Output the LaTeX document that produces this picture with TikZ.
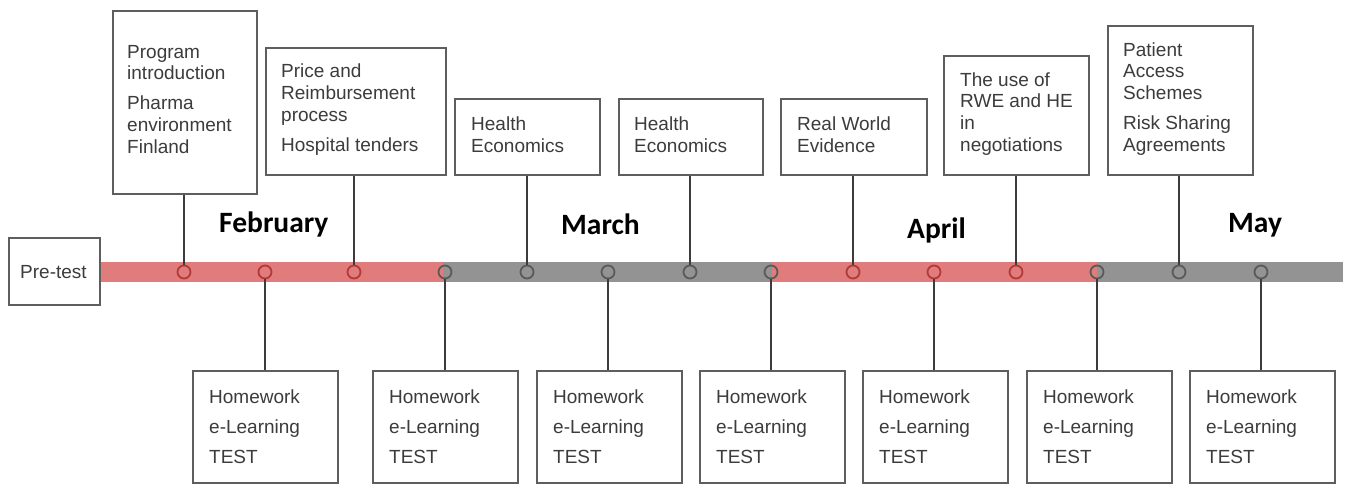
\documentclass[tikz,border=0pt]{standalone}
\usepackage{fontspec}
\setmainfont{Liberation Sans}
\newfontfamily\monthfont{Carlito}
\definecolor{barred}{HTML}{E07C7C}
\definecolor{bargray}{HTML}{939393}
\definecolor{dotred}{HTML}{B23A3A}
\definecolor{dotgray}{HTML}{5A5A5A}
\definecolor{inkgray}{HTML}{3C3C3C}
\definecolor{framegray}{HTML}{5E5E5E}
\begin{document}
\begin{tikzpicture}[x=1pt,y=-1pt,
  frame/.style={draw=framegray,line width=1.8pt,fill=white,rectangle,inner sep=0pt,anchor=north west},
  % multi-line labels: the anchor sits on the baseline of the last line
  txt/.style={text=inkgray,font=\fontsize{19}{22}\selectfont,align=left,anchor=base west,inner sep=0pt},
  month/.style={font=\monthfont\bfseries\fontsize{29.5}{31}\selectfont,anchor=base west,inner sep=0pt},
  link/.style={draw=inkgray,line width=1.8pt},
  dotr/.style={circle,draw=dotred,line width=1.8pt,minimum size=13pt,inner sep=0pt},
  dotg/.style={circle,draw=dotgray,line width=1.8pt,minimum size=13pt,inner sep=0pt}]
\useasboundingbox (0,0) rectangle (1350,484);

% timeline bar, coloured per block of weeks
\fill[barred]  (99,262) rectangle (443,282);
\fill[bargray] (443,262) rectangle (772,282);
\fill[barred]  (772,262) rectangle (1097,282);
\fill[bargray] (1097,262) rectangle (1343,282);

% pre-test box at the start of the bar
\node[frame,minimum width=91pt,minimum height=67pt] (pre) at (8,237) {};
\node[txt] (pretxt) at (20,278) {Pre-test};

% week markers
\foreach \n/\x/\s in {1/184/dotr,2/265/dotr,3/354/dotr,4/445/dotg,5/527/dotg,6/608/dotg,7/690/dotg,
  8/771/dotg,9/853/dotr,10/934/dotr,11/1016/dotr,12/1097/dotg,13/1179/dotg,14/1261/dotg}
  \node[\s] (d\n) at (\x,272) {};

% month labels
\node[month] (feb) at (219,233) {February};
\node[month] (mar) at (561,234) {March};
\node[month] (apr) at (907,238) {April};
\node[month] (may) at (1228,233) {May};

% lecture topics above the bar
\node[frame,minimum width=144pt,minimum height=183pt] (t1) at (112,10) {};
\node[txt] at (127,154) {Program\\introduction\\[8pt]Pharma\\environment\\Finland};
\node[frame,minimum width=180pt,minimum height=127pt] (t2) at (265,47) {};
\node[txt] at (281,152) {Price and\\Reimbursement\\process\\[8pt]Hospital tenders};
\node[frame,minimum width=145pt,minimum height=76pt] (t3) at (454,98) {};
\node[txt] at (471,153) {Health\\Economics};
\node[frame,minimum width=144pt,minimum height=76pt] (t4) at (618,98) {};
\node[txt] at (634,153) {Health\\Economics};
\node[frame,minimum width=146pt,minimum height=76pt] (t5) at (780,98) {};
\node[txt] at (797,153) {Real World\\Evidence};
\node[frame,minimum width=145pt,minimum height=119pt] (t6) at (943,55) {};
\node[txt] at (960,152) {The use of\\RWE and HE\\in\\negotiations};
\node[frame,minimum width=145pt,minimum height=149pt] (t7) at (1107,25) {};
\node[txt] at (1123,152) {Patient\\Access\\Schemes\\[8pt]Risk Sharing\\Agreements};

\foreach \i/\n in {1/1,2/3,3/5,4/7,5/9,6/11,7/13}
  \draw[link] (t\i.south -| d\n) -- (d\n.north);

% weekly assignments below the bar
\foreach \i/\x/\n in {1/192/2,2/372/4,3/536/6,4/699/8,5/862/10,6/1026/12,7/1189/14}{
  \node[frame,minimum width=145pt,minimum height=112pt] (b\i) at (\x,370) {};
  \node[txt,font=\fontsize{19}{30}\selectfont] at (\x+17,463) {Homework\\e-Learning\\TEST};
  \draw[link] (d\n.south) -- (b\i.north -| d\n);
}
\end{tikzpicture}
\end{document}
